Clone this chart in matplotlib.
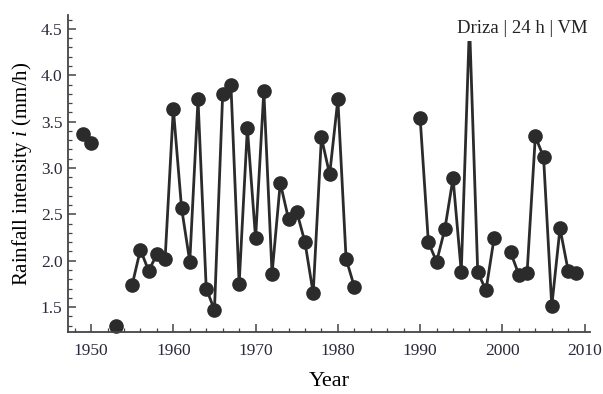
import numpy as np
import matplotlib
matplotlib.use('Agg')
import matplotlib.pyplot as plt
from matplotlib.ticker import MultipleLocator

nan = np.nan

# Annual rainfall intensity, Driza station, 24 h duration (1949-2009)
years = np.arange(1949, 2010)
intensity = np.array([
    3.37, 3.27, nan, nan, 1.30, nan, 1.74, 2.12, 1.89, 2.07,
    2.02, 3.64, 2.57, 1.99, 3.74, 1.70, 1.47, 3.80, 3.90, 1.75,
    3.43, 2.24, 3.83, 1.86, 2.84, 2.45, 2.53, 2.20, 1.65, 3.33,
    2.93, 3.74, 2.02, 1.72, nan, nan, nan, nan, nan, nan,
    nan, 3.54, 2.20, 1.99, 2.34, 2.89, 1.88, 4.56, 1.88, 1.68,
    2.25, nan, 2.09, 1.85, 1.87, 3.34, 3.12, 1.51, 2.35, 1.89,
    1.87])

plt.rcParams['font.family'] = ['Liberation Serif', 'DejaVu Serif']
plt.rcParams['mathtext.fontset'] = 'custom'
plt.rcParams['mathtext.it'] = 'Liberation Serif:italic'
plt.rcParams['mathtext.rm'] = 'Liberation Serif'

fig = plt.figure(figsize=(6.03, 3.94), dpi=100)
ax = fig.add_axes([0.1128, 0.157, 0.865, 0.805])

col = '#2b2b2b'
ax.plot(years, intensity, '-o', color=col, lw=2.0, ms=9.5, clip_on=False, zorder=2)

ax.set_xlim(1947.2, 2010.6)
ax.set_ylim(1.23, 4.65)
ax.xaxis.set_major_locator(MultipleLocator(10))
ax.xaxis.set_minor_locator(MultipleLocator(2))
ax.yaxis.set_major_locator(MultipleLocator(0.5))
ax.yaxis.set_minor_locator(MultipleLocator(0.1))

for s in ['top', 'right']:
    ax.spines[s].set_visible(False)
for s in ['left', 'bottom']:
    ax.spines[s].set_color('#444444')
    ax.spines[s].set_linewidth(1.3)

ax.tick_params(which='both', direction='in', color='#444444', labelsize=12.5, labelcolor='#2a2a3a')
ax.tick_params(which='major', length=6, width=1.1)
ax.tick_params(which='minor', length=3, width=0.9)
ax.tick_params(axis='x', which='major', pad=8)
ax.tick_params(axis='y', which='major', pad=4)

ax.set_xlabel('Year', fontsize=16, labelpad=9)
ax.set_ylabel('Rainfall intensity $\\mathit{i}$ (mm/h)', fontsize=15, labelpad=5)
ax.text(0.997, 0.985, 'Driza | 24 h | VM', transform=ax.transAxes,
        ha='right', va='top', fontsize=13.5, color='#222222', zorder=5,
        bbox=dict(facecolor='white', edgecolor='none', pad=3))

fig.savefig('out.png', dpi=100)
